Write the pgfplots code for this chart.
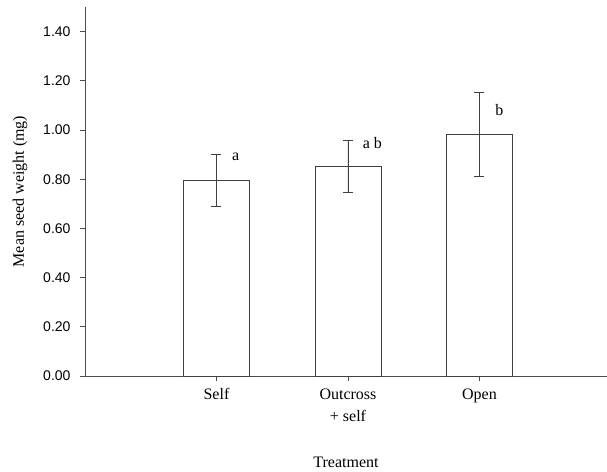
\documentclass[border=0pt]{standalone}
\usepackage{fontspec}
\setmainfont{Liberation Serif}
\newfontfamily\arial{Liberation Sans}
\usepackage{pgfplots}
\pgfplotsset{compat=1.18}
\usetikzlibrary{calc}
\begin{document}
\begin{tikzpicture}
\begin{axis}[
    scale only axis, width=522bp, height=369bp,
    xmin=-1, xmax=2.97, ymin=0, ymax=1.5,
    axis lines=left,
    axis line style={-, line width=0.9bp, black!70},
    every tick/.style={line width=0.8bp, black!70},
    tick align=outside, major tick length=5bp,
    xtick={0,1,2},
    xticklabels={Self, {Outcross\\+ self}, Open},
    xticklabel style={align=center, font=\fontsize{16bp}{22bp}\selectfont, yshift=-4bp},
    ytick={0,0.2,0.4,0.6,0.8,1.0,1.2,1.4},
    yticklabel style={font=\arial\fontsize{14bp}{16bp}\selectfont, xshift=-6bp,
        /pgf/number format/.cd, fixed, fixed zerofill, precision=2,
        assume math mode=true},
    xlabel={Treatment},
    xlabel style={at={(axis description cs:0.5,0)}, anchor=center,
        yshift=-86bp, font=\fontsize{16bp}{18bp}\selectfont},
    ylabel={Mean seed weight (mg)},
    ylabel style={at={(axis description cs:-0.1245,0.5)}, anchor=center,
        font=\fontsize{16bp}{18bp}\selectfont},
]
\addplot [ybar, bar width=66bp, fill=white, draw=black!75, line width=0.9bp,
    error bars/.cd, y dir=both, y explicit,
    error bar style={line width=0.9bp, black!75},
    error mark options={rotate=90, mark size=5bp, line width=0.9bp, black!75}]
  coordinates {
    (0, 0.795) +- (0, 0.105)
    (1, 0.852) +- (0, 0.104)
    (2, 0.982) +- (0, 0.171)
  };
\node [font=\fontsize{16bp}{18bp}\selectfont] at (axis cs:0.145,0.889) {a};
\node [font=\fontsize{16bp}{18bp}\selectfont] at (axis cs:1.186,0.946) {a b};
\node [font=\fontsize{16bp}{18bp}\selectfont] at (axis cs:2.152,1.08) {b};
\end{axis}
\pgfresetboundingbox
\path ($(current axis.south west)+(-85bp,-96bp)$) rectangle ($(current axis.north east)+(0bp,7bp)$);
\end{tikzpicture}
\end{document}
